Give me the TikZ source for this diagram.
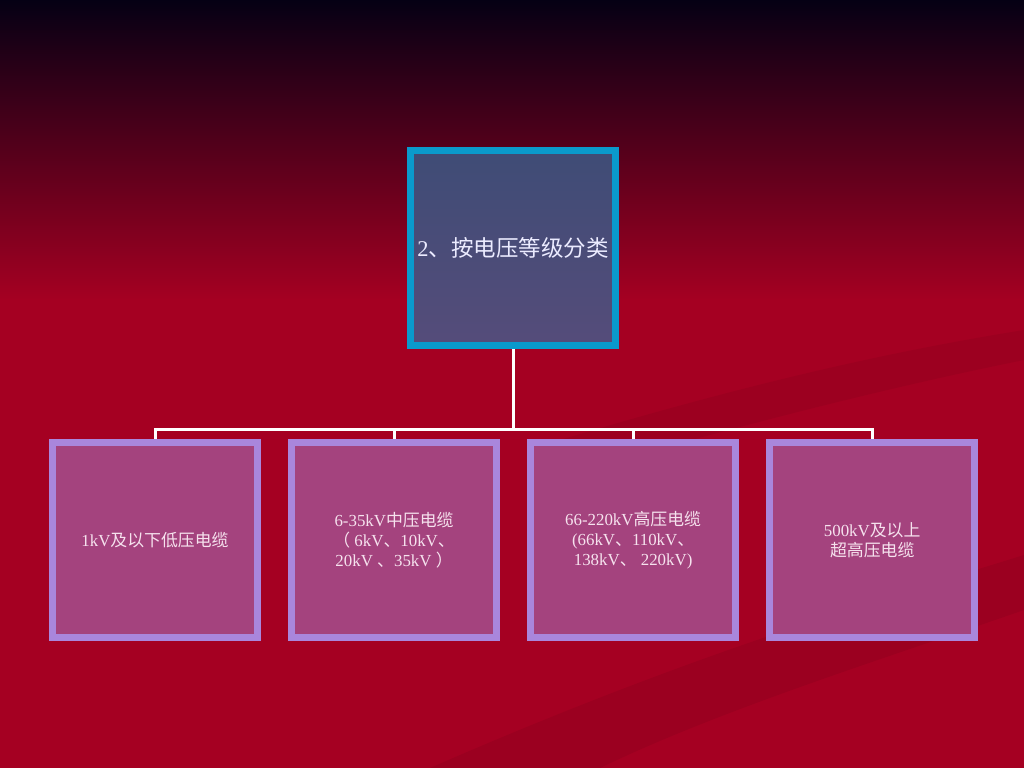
\documentclass[tikz,border=0pt]{standalone}
\usepackage{fontspec}
\setmainfont{Liberation Serif}
\newfontfamily\cjk{Noto Sans CJK SC}
\usepackage{xcolor}
\usepackage{tikz}
\usetikzlibrary{positioning}
\definecolor{bgtop}{HTML}{050014}
\definecolor{bgmid}{HTML}{6A001C}
\definecolor{bgred}{HTML}{A50022}
\definecolor{topfillA}{HTML}{3F4C76}
\definecolor{topfillB}{HTML}{554C7A}
\definecolor{topedge}{HTML}{0A9ACC}
\definecolor{subfill}{HTML}{A4437E}
\definecolor{subedge}{HTML}{A986DC}
\definecolor{subtext}{HTML}{F6E2EE}
\newcommand{\zh}[1]{{\cjk #1}}
\tikzset{
  cbox/.style={draw=topedge, line width=0.175cm, top color=topfillA, bottom color=topfillB, minimum width=5.125cm, minimum height=4.875cm, align=center, text=white!92!blue, font=\fontsize{16}{19}\selectfont, inner sep=2pt},
  sbox/.style={draw=subedge, line width=0.175cm, fill=subfill, minimum width=5.125cm, minimum height=4.875cm, align=center, text=subtext, font=\fontsize{12}{14.4}\selectfont, inner sep=2pt},
  tline/.style={white, line width=0.075cm}
}
\begin{document}
\begin{tikzpicture}[x=0.025cm, y=-0.025cm]
\useasboundingbox (0,0) rectangle (1024,768);
% background
\shade[top color=bgtop, middle color=bgmid, bottom color=bgred] (0,0) rectangle (1024,300);
\fill[bgred] (0,299) rectangle (1024,768);
\fill[black, opacity=0.06] (430,768) .. controls (700,650) and (880,600) .. (1024,555) -- (1024,610) .. controls (880,660) and (720,710) .. (600,768) -- cycle;
\fill[black, opacity=0.05] (560,440) .. controls (760,380) and (900,350) .. (1024,330) -- (1024,360) .. controls (900,385) and (760,420) .. (620,460) -- cycle;
% nodes
\node[cbox] (cls) at (513,248) {2\zh{、按电压等级分类}};
\node[sbox] (b1) at (155,540) {1kV\zh{及以下低压电缆}};
\node[sbox, right=0.675cm of b1] (b2) {6-35kV\zh{中压电缆}\\\zh{（} 6kV\zh{、}10kV\zh{、}\\20kV \zh{、}35kV \zh{）}};
\node[sbox, right=0.675cm of b2] (b3) {66-220kV\zh{高压电缆}\\(66kV\zh{、}110kV\zh{、}\\138kV\zh{、} 220kV)};
\node[sbox, right=0.675cm of b3] (b4) {500kV\zh{及以上}\\\zh{超高压电缆}};
\coordinate[below=2cm of cls.south] (bar);
% connectors
\draw[tline] (cls.south) -- (bar);
\draw[tline] (b1.north) -- (b1.north |- bar) -- (b4.north |- bar) -- (b4.north);
\draw[tline] (b2.north) -- (b2.north |- bar); \draw[tline] (b3.north) -- (b3.north |- bar);
\end{tikzpicture}
\end{document}
